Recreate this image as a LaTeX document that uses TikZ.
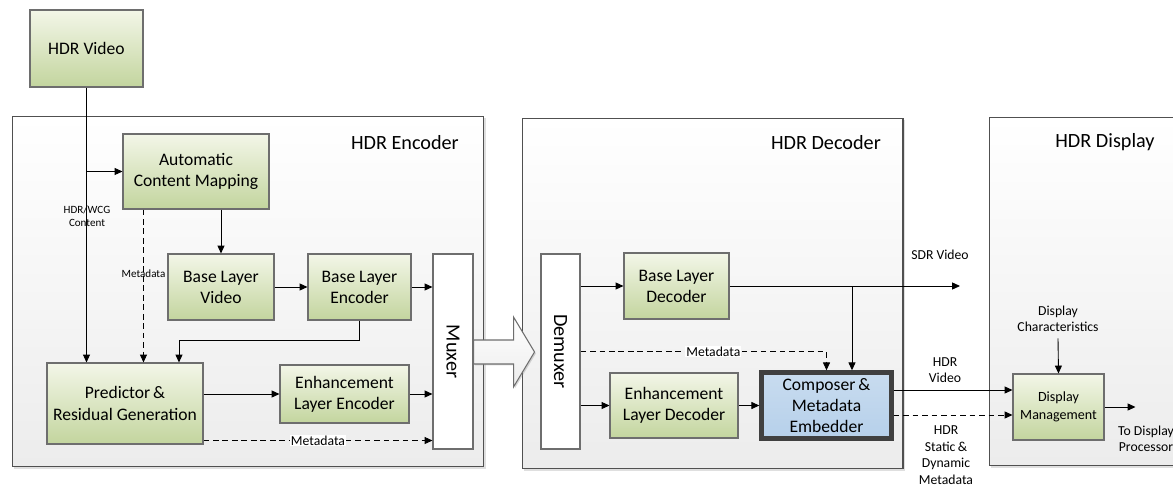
\documentclass[tikz,border=0pt]{standalone}
\usepackage{fontspec}
\setmainfont{Carlito}
\usetikzlibrary{arrows.meta,shadows}

\definecolor{greentop}{RGB}{243,246,232}
\definecolor{greenbot}{RGB}{195,213,158}
\definecolor{boxline}{RGB}{110,110,110}
\definecolor{frameline}{RGB}{80,80,80}
\definecolor{framebot}{RGB}{236,236,236}
\definecolor{compfill}{RGB}{182,208,234}
\definecolor{compline}{RGB}{64,64,64}

\begin{document}
\begin{tikzpicture}[x=0.02cm, y=-0.02cm,
	box/.style={draw=boxline, line width=0.6pt, top color=greentop, bottom color=greenbot,
		align=center, font=\fontsize{10}{12}\selectfont, inner sep=2pt,
		drop shadow={shadow xshift=0.8pt, shadow yshift=-0.8pt, opacity=0.3}},
	frame/.style={draw=frameline, line width=0.6pt, top color=white, bottom color=framebot,
		drop shadow={shadow xshift=1pt, shadow yshift=-1pt, opacity=0.25}},
	muxbox/.style={draw=boxline, line width=0.6pt, fill=white, font=\fontsize{11.5}{13}\selectfont},
	title/.style={font=\fontsize{11.5}{13}\selectfont},
	arr/.style={-{Triangle[length=4.5pt,width=4pt]}, line width=0.5pt},
	meta/.style={arr, dash pattern=on 3.2pt off 2.2pt},
	lbl/.style={font=\fontsize{7.8}{9.4}\selectfont, align=center},
	tiny/.style={font=\fontsize{6.3}{7.3}\selectfont, align=center}]

	\useasboundingbox (0,0) rectangle (1173,486);

	% the three stages
	\node[frame, minimum width=9.44cm, minimum height=7.02cm] (enc) at (248,291.5) {};
	\node[frame, minimum width=7.62cm, minimum height=7.02cm] (dec) at (712.5,293.5) {};
	\node[frame, minimum width=3.92cm, minimum height=6.98cm] (disp) at (1087,291.5) {};
	\node[title, anchor=east] (enctitle) at (465,143) {HDR Encoder};
	\node[title, anchor=east] (dectitle) at (887,143) {HDR Decoder};
	\node[title] (disptitle) at (1105,142) {HDR Display};

	% source
	\node[box, minimum width=2.26cm, minimum height=1.54cm] (hdrvid) at (86.5,48.5) {HDR Video};

	% encoder
	\node[box, minimum width=2.92cm, minimum height=1.5cm] (acm) at (196,171.5) {Automatic\\Content Mapping};
	\node[box, minimum width=2.12cm, minimum height=1.32cm] (blv) at (221,287) {Base Layer\\Video};
	\node[box, minimum width=2.06cm, minimum height=1.32cm] (ble) at (359.5,287) {Base Layer\\Encoder};
	\node[box, minimum width=3.12cm, minimum height=1.62cm] (pred) at (125,403.5) {Predictor\,\&\\Residual Generation};
	\node[box, minimum width=2.58cm, minimum height=1.16cm] (ele) at (344.5,394) {Enhancement\\Layer Encoder};
	\node[muxbox, minimum width=0.8cm, minimum height=3.9cm] (mux) at (453,351.5) {\rotatebox{-90}{Muxer}};

	\draw[line width=0.5pt] (hdrvid.south) -- (hdrvid.south |- acm.west);
	\draw[arr] (hdrvid.south |- acm.west) -- (hdrvid.south |- pred.north);
	\draw[arr] (hdrvid.south |- acm.west) -- (acm.west);
	\node[tiny] (wcg) at (87,216) {HDR/WCG\\Content};
	\draw[arr] (blv.north |- acm.south) -- (blv.north);
	\draw[meta] ([xshift=0.42cm]acm.south west) coordinate (mdtop) -- (mdtop |- pred.north)
		node[tiny, pos=0.42] (mdlbl) {Metadata};
	\draw[arr] (blv.east) -- (ble.west);
	\draw[arr] (ble.east) -- (ble.east -| mux.west);
	\draw[arr] (ble.south) -- ++(0,20) -| ([xshift=1.08cm]pred.north);
	\draw[arr] (pred.east |- ele.west) -- (ele.west);
	\draw[arr] (ele.east) -- (ele.east -| mux.west);
	\draw[meta] ([yshift=0.08cm]pred.south east) coordinate (pmeta) -- (pmeta -| mux.west)
		node[lbl, midway, fill=white, inner sep=0.5pt] (pmlbl) {Metadata};

	% bitstream
	\draw[draw=boxline, line width=0.6pt, top color=white, bottom color=framebot,
		drop shadow={shadow xshift=0.8pt, shadow yshift=-0.8pt, opacity=0.3}]
		(mux.east) ++(0,-11.5) -- ++(40,0) -- ++(0,-23) -- ++(21,35) -- ++(-21,35)
		-- ++(0,-23) -- ++(-40,0) -- cycle;

	% decoder
	\node[muxbox, minimum width=0.78cm, minimum height=3.9cm] (demux) at (560.5,351.5) {\rotatebox{-90}{Demuxer}};
	\node[box, minimum width=2.1cm, minimum height=1.32cm] (bld) at (676.5,286) {Base Layer\\Decoder};
	\node[box, minimum width=2.56cm, minimum height=1.3cm] (eld) at (674,405.5) {Enhancement\\Layer Decoder};
	\node[box, draw=compline, line width=2.5pt, top color=compfill!75!white, bottom color=compfill,
		minimum width=2.6cm, minimum height=1.32cm] (comp) at (826.5,405.5) {Composer\,\&\\Metadata\\Embedder};

	\coordinate (sdrend) at (960,286);
	\draw[arr] (demux.east |- bld.west) -- (bld.west);
	\draw[arr] (bld.east) -- (sdrend);
	\node[lbl] (sdrlbl) at (940,255) {SDR Video};
	\draw[arr] ([xshift=0.51cm]comp.north |- bld.east) -- ([xshift=0.51cm]comp.north);
	\draw[meta] (demux.east) -| (comp.north)
		node[lbl, pos=0.27, fill=white, inner sep=0.5pt] (dmlbl) {Metadata};
	\draw[arr] (demux.east |- eld.west) -- (eld.west);
	\draw[arr] (eld.east) -- (comp.west);

	% display
	\node[box, minimum width=1.82cm, minimum height=1.32cm, font=\fontsize{8}{10}\selectfont] (dm) at (1058.5,407) {Display\\Management};
	\node[lbl] (dclbl) at (1058,319) {Display\\Characteristics};
	\draw[arr] (dclbl.south) -- (dm.north);
	\draw[arr] ([yshift=0.31cm]comp.east) coordinate (hdrout) -- (hdrout -| dm.west);
	\draw[meta] ([yshift=-0.19cm]comp.east) coordinate (metaout) -- (metaout -| dm.west);
	\node[lbl] (hdrlbl) at (945,370) {HDR\\Video};
	\node[lbl] (metalbl) at (946,455) {HDR\\Static\,\&\\Dynamic\\Metadata};
	\draw[arr] (dm.east) -- ++(31,0) coordinate (dpout);
	\node[lbl] (dplbl) at (1146,439) {To Display\\Processor};
\end{tikzpicture}
\end{document}
